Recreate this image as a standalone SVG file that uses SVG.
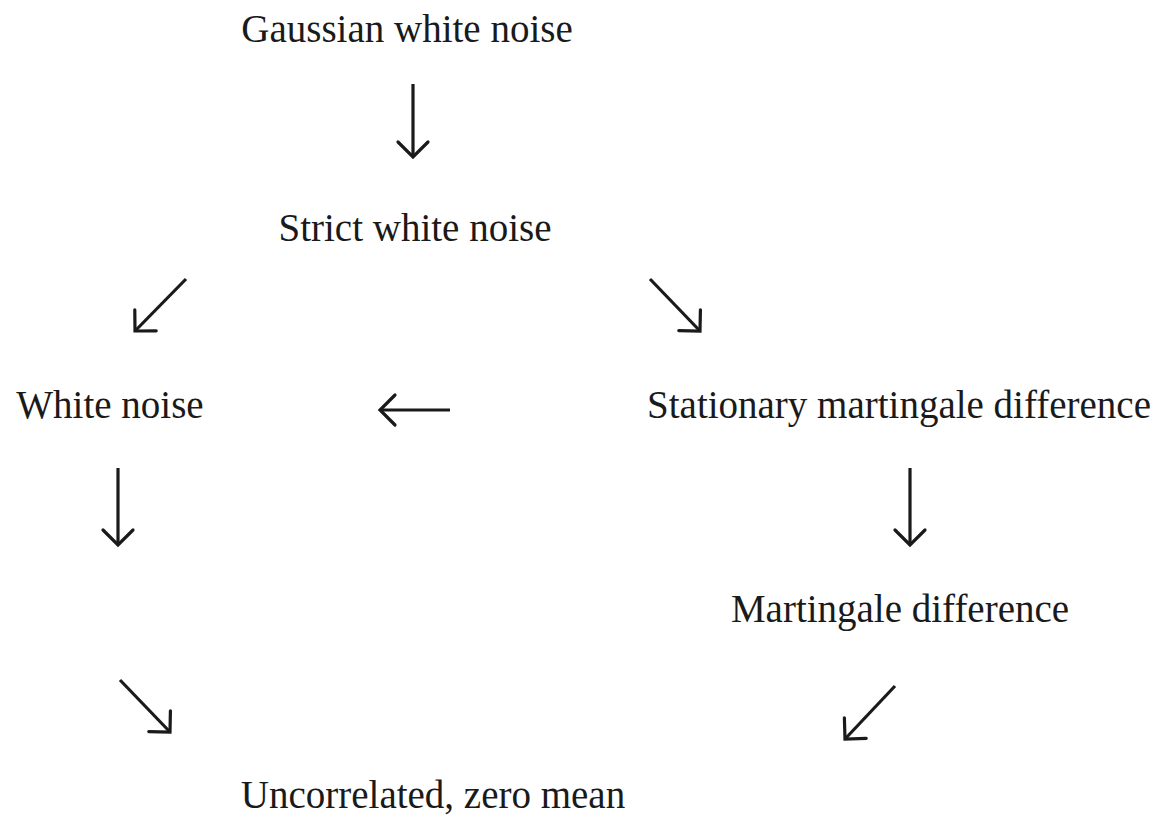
<svg xmlns="http://www.w3.org/2000/svg" width="1159" height="818" viewBox="0 0 1159 818">
<style>
.t{font-family:"Liberation Serif","Times New Roman",serif;font-size:39px;fill:#1a1a1a}
.a{stroke:#1a1a1a;stroke-width:3.2;fill:none;marker-end:url(#h)}
</style>
<defs>
<marker id="h" markerUnits="userSpaceOnUse" markerWidth="40" markerHeight="40" viewBox="-20 -20 40 40" refX="0" refY="0" orient="auto">
<path d="M-15,-15 L0,0 L-15,15" fill="none" stroke="#1a1a1a" stroke-width="3.2" stroke-linecap="round" stroke-linejoin="miter"/>
</marker>
</defs>
<rect width="1159" height="818" fill="#fff"/>
<g id="n1"><text class="t" x="407" y="42" text-anchor="middle">Gaussian white noise</text></g>
<g id="n2"><text class="t" x="415" y="241" text-anchor="middle">Strict white noise</text></g>
<g id="n3"><text class="t" x="110" y="418" text-anchor="middle">White noise</text></g>
<g id="n4"><text class="t" x="899" y="418" text-anchor="middle">Stationary martingale difference</text></g>
<g id="n5"><text class="t" x="900" y="622" text-anchor="middle">Martingale difference</text></g>
<g id="n6"><text class="t" x="433" y="808" text-anchor="middle">Uncorrelated, zero mean</text></g>
<g id="connectors">
<line class="a" x1="413" y1="84" x2="413" y2="157"/>
<line class="a" x1="186" y1="279" x2="135" y2="331"/>
<line class="a" x1="650" y1="279" x2="700" y2="331"/>
<line class="a" x1="450" y1="410" x2="380" y2="410"/>
<line class="a" x1="118" y1="468" x2="118" y2="545"/>
<line class="a" x1="910" y1="468" x2="910" y2="545"/>
<line class="a" x1="120" y1="680" x2="170" y2="732"/>
<line class="a" x1="895" y1="686" x2="845" y2="739"/>
</g>
</svg>
